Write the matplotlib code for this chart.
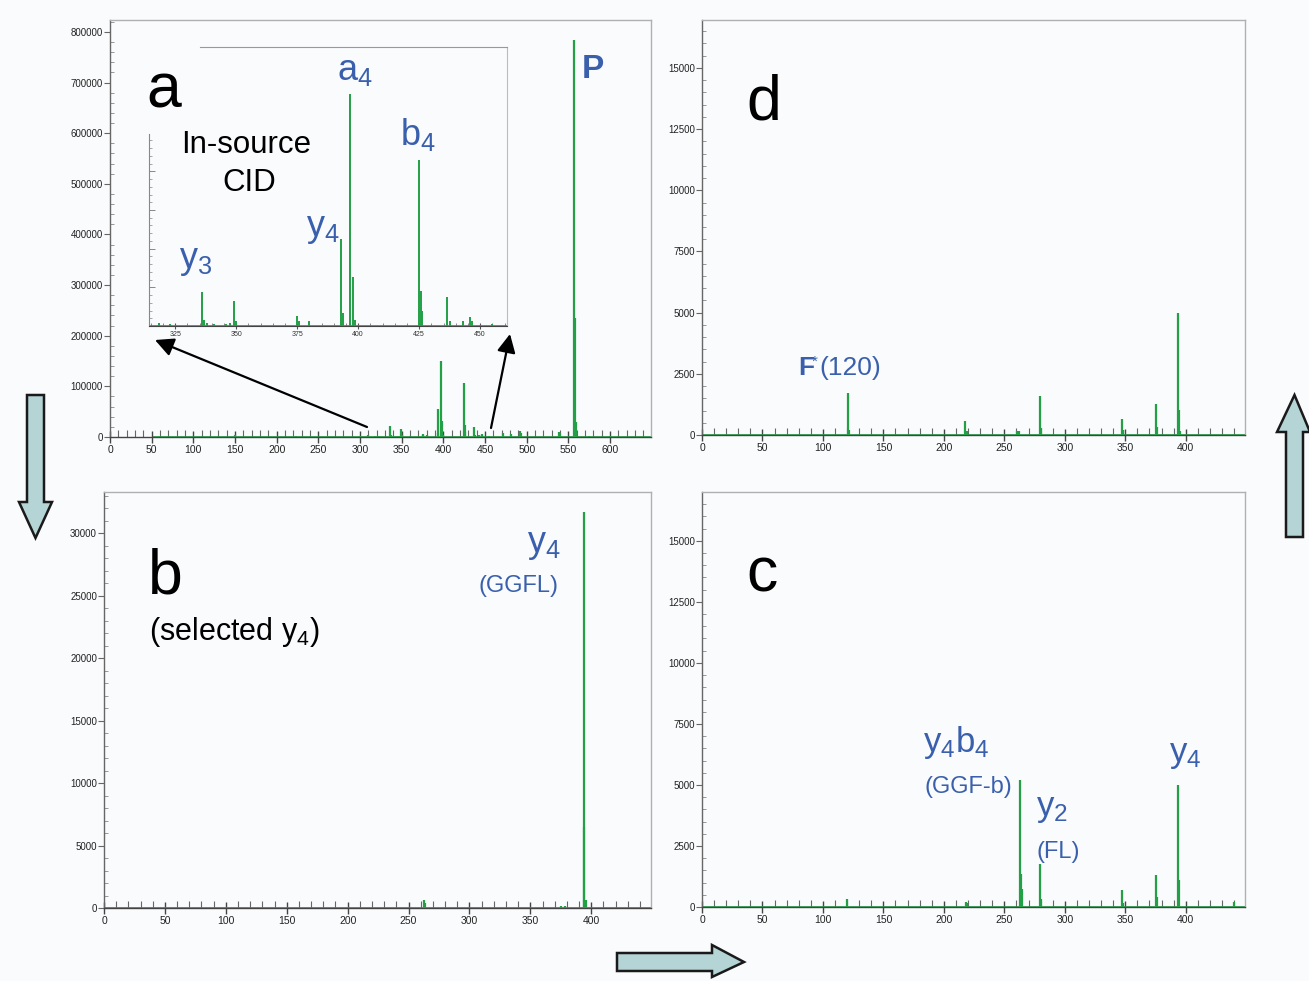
import numpy as np
import matplotlib
matplotlib.use("Agg")
import matplotlib.pyplot as plt
from matplotlib.patches import Polygon
from matplotlib.ticker import MultipleLocator, FixedLocator, NullFormatter

plt.rcParams['font.family'] = ['Liberation Sans', 'DejaVu Sans']
plt.rcParams['mathtext.fontset'] = 'custom'
plt.rcParams['mathtext.rm'] = 'Liberation Sans'
plt.rcParams['mathtext.it'] = 'Liberation Sans:italic'
plt.rcParams['mathtext.bf'] = 'Liberation Sans:bold'

# --- spectre a : CID en source (m/z, intensité) ---
a_mz = [150, 223, 262, 300, 310, 318.2, 323, 335.9, 336.9, 338, 341, 345.9, 347.3,
        349.2, 350, 374.9, 375.7, 379.9, 393.0, 394.0, 396.7, 397.8, 398.9,
        424.9, 425.7, 426.2, 436.6, 437.7, 442.8, 446.0, 446.6, 455, 470.9,
        481.6, 491.7, 493, 538.7, 539.5, 556.5, 558.0, 559.5, 575, 600]
a_int = [3000, 2500, 2000, 2500, 3000, 2000, 1500, 22100, 3700, 2000, 1500, 1500, 2000,
         16000, 3000, 6300, 3000, 3000, 56100, 8500, 150000, 31900, 4100,
         107300, 22800, 10000, 18900, 3000, 3000, 5900, 3000, 1500, 8500,
         6500, 11800, 8000, 9800, 8000, 785000, 235000, 30000, 2000, 1500]
a_scan = (52, 650)

# --- spectre b : y4 sélectionné ---
b_mz = [262.5, 263.2, 375, 378, 393.8, 394.4, 395.4]
b_int = [640, 400, 200, 150, 31700, 6500, 660]

# --- spectre c ---
c_mz = [120.2, 218, 219.5, 262.6, 263.6, 264.6, 279.6, 280.4, 347.5, 348.2,
        375.4, 376.2, 393.8, 394.6, 440]
c_int = [340, 200, 180, 5220, 1370, 750, 1750, 340, 680, 150,
         1300, 410, 5010, 1090, 200]

# --- spectre d ---
d_mz = [120.5, 121.2, 217.7, 219, 260.5, 262.0, 279.9, 280.6, 347.6, 348.3,
        375.5, 376.3, 393.8, 394.5, 395.5]
d_int = [1710, 200, 575, 150, 180, 180, 1575, 270, 640, 200,
         1260, 340, 5000, 1030, 150]
msms_scan = (0, 450)

W, H = 1309, 981
BG = '#f9fbfd'
GREEN = '#23a046'
BLUE = '#3a60ad'
ARROW_FILL = '#b4d4d6'

fig = plt.figure(figsize=(W / 100, H / 100), dpi=100, facecolor=BG)


def rect(l, t, r, b):
    return [l / W, 1 - b / H, (r - l) / W, (b - t) / H]


def style(ax, xmax, ymax, ymaj, ymin):
    ax.set_facecolor(BG)
    ax.set_xlim(0, xmax)
    ax.set_ylim(0, ymax)
    for s in ['top', 'right']:
        ax.spines[s].set_color('#b0b0b0')
    ax.spines['left'].set_color('#666666')
    ax.spines['bottom'].set_color('#444444')
    for s in ax.spines.values():
        s.set_linewidth(1.0)
    ax.xaxis.set_major_locator(MultipleLocator(50))
    ax.xaxis.set_minor_locator(MultipleLocator(10))
    ax.yaxis.set_major_locator(MultipleLocator(ymaj))
    ax.yaxis.set_minor_locator(MultipleLocator(ymin))
    ax.ticklabel_format(axis='y', style='plain', useOffset=False)
    ax.tick_params(axis='x', which='major', direction='inout', length=9, width=1,
                   color='#444444', labelsize=7.5, labelcolor='#222222', pad=1)
    ax.tick_params(axis='x', which='minor', direction='in', length=5, width=0.8,
                   color='#666666')
    ax.tick_params(axis='y', which='major', direction='out', length=4, width=0.8,
                   color='#666666', labelsize=7, labelcolor='#222222', pad=1)
    ax.tick_params(axis='y', which='minor', direction='in', length=3, width=0.6,
                   color='#888888')


def peaks(ax, mz, inten, scan, lw=1.6):
    ax.hlines(0, scan[0], scan[1], color=GREEN, lw=1.2, zorder=2.5, clip_on=False)
    ax.vlines(mz, 0, inten, color=GREEN, lw=lw, zorder=3)


ax_a = fig.add_axes(rect(110, 20, 651, 437))
style(ax_a, 649, 823700, 100000, 20000)
peaks(ax_a, a_mz, a_int, (a_scan[0], 649))

ax_b = fig.add_axes(rect(104, 492, 651, 908))
style(ax_b, 449, 33300, 5000, 1000)
peaks(ax_b, b_mz, b_int, (msms_scan[0], 449))

ax_d = fig.add_axes(rect(702, 20, 1245, 435))
style(ax_d, 449, 16960, 2500, 500)
peaks(ax_d, d_mz, d_int, (msms_scan[0], 449))

ax_c = fig.add_axes(rect(702, 492, 1245, 907))
style(ax_c, 449, 17000, 2500, 500)
peaks(ax_c, c_mz, c_int, (msms_scan[0], 449))

# encart (zoom 314-461)
ax_in = fig.add_axes(rect(149, 47, 507, 326))
ax_in.set_facecolor(BG)
ax_in.set_xlim(314.3, 461)
ax_in.set_ylim(0, 180400)
peaks(ax_in, a_mz, a_int, (314.3, 461), lw=1.4)
ax_in.spines['left'].set_bounds(0, 124000)
ax_in.spines['top'].set_bounds(335.2, 461)
ax_in.spines['left'].set_color('#888888')
ax_in.spines['bottom'].set_color('#444444')
ax_in.spines['top'].set_color('#999999')
ax_in.spines['right'].set_color('#bbbbbb')
ax_in.xaxis.set_major_locator(MultipleLocator(25))
ax_in.xaxis.set_minor_locator(MultipleLocator(5))
ax_in.yaxis.set_major_locator(FixedLocator(np.arange(0, 125000, 25000)))
ax_in.yaxis.set_minor_locator(FixedLocator(np.arange(0, 125000, 5000)))
ax_in.yaxis.set_major_formatter(NullFormatter())
ax_in.tick_params(axis='x', which='major', direction='inout', length=5, width=0.8,
                  color='#555555', labelsize=5, labelcolor='#333333', pad=1)
ax_in.tick_params(axis='x', which='minor', direction='in', length=2.5, width=0.6,
                  color='#777777')
ax_in.tick_params(axis='y', which='major', direction='in', length=4, width=0.7,
                  color='#888888')
ax_in.tick_params(axis='y', which='minor', direction='in', length=2, width=0.6,
                  color='#999999')

# couche de dessin en pixels pour textes et flèches
ov = fig.add_axes([0, 0, 1, 1], zorder=10)
ov.set_xlim(0, W)
ov.set_ylim(H, 0)
ov.axis('off')
ov.patch.set_alpha(0)


def txt(x, y, s, size, color='black', ha='left', weight='normal'):
    ov.text(x, y, s, fontsize=size, color=color, ha=ha, va='baseline',
            fontweight=weight)


sub = lambda base, n: base + r'$_{\mathregular{' + n + '}}$'

# panneau a
txt(146, 108, 'a', 45)
txt(246, 153, 'In-source', 22.5, ha='center')
txt(249, 191, 'CID', 22.5, ha='center')
txt(337, 80, sub('a', '4'), 26, BLUE)
txt(400, 145, sub('b', '4'), 26, BLUE)
txt(306, 236, sub('y', '4'), 26, BLUE)
txt(179, 268, sub('y', '3'), 26, BLUE)
txt(582, 78, 'P', 24, BLUE, weight='bold')

# panneau b
txt(148, 593, 'b', 45)
txt(149, 640, '(selected ' + sub('y', '4') + ')', 22)
txt(527, 552, sub('y', '4'), 26, BLUE)
txt(559, 592, '(GGFL)', 17, BLUE, ha='right')

# panneau d
txt(746, 120, 'd', 45)
txt(798, 375, 'F', 19, BLUE, weight='bold')
txt(811.5, 366, '*', 11, BLUE)
txt(819, 375, '(120)', 19, BLUE)

# panneau c
txt(746, 592, 'c', 45)
txt(923, 752, sub('y', '4') + sub('b', '4'), 25, BLUE)
txt(924, 793, '(GGF-b)', 17, BLUE)
txt(1036, 816, sub('y', '2'), 25, BLUE)
txt(1036, 858, '(FL)', 17, BLUE)
txt(1169, 762, sub('y', '4'), 25, BLUE)

# flèches noires vers l'encart
arrow_kw = dict(arrowstyle='-|>', mutation_scale=28, lw=1.6, color='black',
                shrinkA=0, shrinkB=0)
ov.annotate('', xy=(155, 340), xytext=(367, 427), arrowprops=arrow_kw)
ov.annotate('', xy=(510, 334), xytext=(491, 428), arrowprops=arrow_kw)

# grosses flèches de séquence
down = [(27, 395), (44, 395), (44, 502), (52, 502), (35.5, 538), (19, 502), (27, 502)]
up = [(1286, 537), (1303, 537), (1303, 432), (1310, 432), (1294.5, 395), (1277, 432), (1286, 432)]
right = [(617, 953), (712, 953), (712, 945), (744, 962), (712, 977), (712, 971), (617, 971)]
for shape in (down, up, right):
    ov.add_patch(Polygon(shape, closed=True, facecolor=ARROW_FILL,
                         edgecolor='#1a1a1a', lw=1.8, joinstyle='miter'))

fig.savefig('out.png', dpi=100, facecolor=BG)
